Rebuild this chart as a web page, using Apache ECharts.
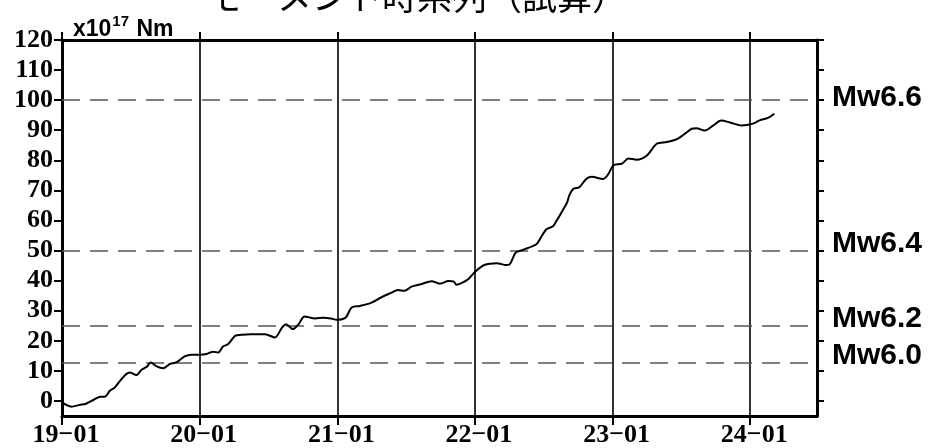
<!DOCTYPE html>
<html>
<head>
<meta charset="utf-8">
<script src="https://cdn.jsdelivr.net/npm/echarts@6/dist/echarts.min.js"></script>
<style>html,body{margin:0;padding:0;background:#fff;}#c{width:934px;height:448px;}</style>
</head>
<body>
<div id="c"></div>
<script>
const dates = [
'2019-01-01','2019-01-26','2019-02-17','2019-03-04','2019-03-26','2019-04-13','2019-04-24','2019-05-08','2019-05-21','2019-06-08',
'2019-06-21','2019-06-30','2019-07-17','2019-07-31','2019-08-15','2019-08-24','2019-09-09','2019-09-26','2019-10-14','2019-10-31',
'2019-11-22','2019-12-10','2020-01-01','2020-01-19','2020-02-06','2020-02-19','2020-03-03','2020-03-17','2020-04-05','2020-04-21',
'2020-05-15','2020-06-23','2020-07-19','2020-08-07','2020-08-18','2020-09-05','2020-09-20','2020-10-06','2020-11-03','2020-11-25',
'2020-12-16','2020-12-30','2021-01-23','2021-02-08','2021-03-02','2021-04-02','2021-04-27','2021-05-25','2021-06-10','2021-06-28',
'2021-07-17','2021-08-11','2021-09-08','2021-09-30','2021-10-23','2021-11-06','2021-11-13','2021-11-30','2021-12-14','2022-01-01',
'2022-01-26','2022-02-28','2022-03-25','2022-04-03','2022-04-19','2022-05-08','2022-06-13','2022-06-21','2022-07-09','2022-07-27',
'2022-08-05','2022-08-18','2022-09-02','2022-09-09','2022-09-19','2022-10-05','2022-10-23','2022-11-07','2022-12-07','2022-12-20',
'2023-01-03','2023-01-26','2023-02-12','2023-03-06','2023-04-02','2023-04-28','2023-05-25','2023-06-21','2023-07-08','2023-07-30',
'2023-08-11','2023-09-02','2023-09-24','2023-10-16','2023-11-08','2023-12-09','2024-01-08','2024-01-26','2024-02-17','2024-03-05'
];
const moment = [
-0.5,-1.9,-1.3,-1.0,0.4,1.4,1.4,3.4,4.5,7.3,
9.0,9.5,8.6,10.4,11.5,12.8,11.5,10.9,12.3,12.8,
14.8,15.4,15.4,15.6,16.4,16.1,18.1,18.9,21.7,22.0,
22.2,22.2,21.1,24.4,25.5,23.9,25.5,28.1,27.4,27.7,
27.4,27.0,27.7,31.1,31.6,32.7,34.4,36.0,36.9,36.6,
38.0,38.8,39.8,39.0,39.9,39.7,38.6,39.4,40.5,42.9,
45.2,45.8,45.2,45.4,49.3,50.2,52.1,53.5,57.0,58.1,
59.8,62.6,65.9,68.6,70.5,71.1,73.8,74.5,73.8,75.3,
78.3,78.9,80.6,80.2,81.6,85.5,86.1,87.1,88.5,90.5,
90.7,89.9,91.5,93.2,92.6,91.6,92.2,93.3,94.1,95.5
];
const yTicks = [0,10,20,30,40,50,60,70,80,90,100,110,120];
const xTickYears = [2019,2020,2021,2022,2023,2024];
const mwLevels = [100, 50.1, 25.1, 12.6];
const mwLabels = ['Mw6.6','Mw6.4','Mw6.2','Mw6.0'];
const titleText = 'モーメント時系列（試算）';
const unitText = 'x10';
const unitSup = '17';
const unitTail = ' Nm';

function decYear(s) {
  const p = s.split('-').map(Number);
  const t = Date.UTC(p[0], p[1]-1, p[2]);
  const a = Date.UTC(p[0], 0, 1), b = Date.UTC(p[0]+1, 0, 1);
  return p[0] + (t - a) / (b - a);
}
const seriesData = dates.map((d, i) => [decYear(d), moment[i]]);

const chart = echarts.init(document.getElementById('c'));
const serif = '"Liberation Serif","Times New Roman",serif';
const sans = '"Liberation Sans",Arial,sans-serif';
const xCommon = {
  type: 'value', min: 2019, max: 2024.485, interval: 0.5,
  axisLine: { show: true, onZero: false, lineStyle: { color: '#000', width: 3 } }
};
const mwLabelStyle = [
  { verticalAlign: 'bottom', lineHeight: 4 },
  { verticalAlign: 'bottom', lineHeight: 14 },
  { verticalAlign: 'bottom', lineHeight: 14 },
  { verticalAlign: 'bottom', lineHeight: 14 }
];
chart.setOption({
  backgroundColor: '#fff',
  animation: false,
  title: [{
    text: titleText, left: 202, top: -26,
    textStyle: { fontFamily: '"Noto Sans CJK JP",sans-serif', fontSize: 35, fontWeight: 'normal', color: '#000' }
  }, {
    text: '{a|' + unitText + '}{s|' + unitSup + '}{a|' + unitTail + '}', left: 68, top: 9,
    textStyle: {
      rich: {
        a: { fontFamily: sans, fontSize: 23, fontWeight: 'bold', color: '#000', verticalAlign: 'bottom' },
        s: { fontFamily: sans, fontSize: 15, fontWeight: 'bold', color: '#000', verticalAlign: 'top', padding: [0, 1, 12, 1] }
      }
    }
  }],
  grid: { left: 62, right: 117, top: 40, bottom: 31, containLabel: false },
  xAxis: [
    Object.assign({}, xCommon, {
      position: 'bottom',
      splitLine: { show: true, lineStyle: { color: '#000', width: 1.6 } },
      axisTick: { show: true, customValues: xTickYears, length: 9, inside: false, lineStyle: { color: '#000', width: 2 } },
      axisLabel: {
        show: true, customValues: xTickYears, margin: 6, color: '#000',
        fontFamily: serif, fontSize: 26, fontWeight: 'bold', padding: [0, 0, 0, 8],
        formatter: v => String(Math.round(v)).slice(2) + '\u221201'
      }
    }),
    Object.assign({}, xCommon, {
      position: 'top',
      splitLine: { show: false },
      axisTick: { show: true, customValues: xTickYears, length: 8, inside: false, lineStyle: { color: '#000', width: 2 } },
      axisLabel: { show: false }
    })
  ],
  yAxis: [
    {
      type: 'value', position: 'left', min: -5, max: 120, interval: 5,
      axisLine: { show: true, onZero: false, lineStyle: { color: '#000', width: 3 } },
      axisTick: { show: true, customValues: yTicks, length: 8, lineStyle: { color: '#000', width: 2 } },
      axisLabel: { show: true, customValues: yTicks, margin: 9, color: '#000', fontFamily: serif, fontSize: 26, fontWeight: 'bold' },
      splitLine: { show: false }
    },
    {
      type: 'value', position: 'right', min: -5, max: 120, interval: 5,
      axisLine: { show: true, onZero: false, lineStyle: { color: '#000', width: 3 } },
      axisTick: { show: true, customValues: yTicks, length: 7, lineStyle: { color: '#000', width: 2 } },
      axisLabel: { show: false },
      splitLine: { show: false }
    }
  ],
  series: [{
    type: 'line', xAxisIndex: 0, yAxisIndex: 0,
    data: seriesData, showSymbol: false, smooth: 0.3,
    lineStyle: { color: '#000', width: 2 },
    z: 5,
    markLine: {
      silent: true, symbol: 'none', z: 3,
      lineStyle: { color: '#555', width: 1.5, type: [18, 10] },
      label: {
        show: true, position: 'end', distance: 15, formatter: '{b}',
        fontFamily: sans, fontSize: 30, fontWeight: 'bold', color: '#000'
      },
      data: mwLevels.map((v, i) => ({ yAxis: v, name: mwLabels[i], label: mwLabelStyle[i] }))
    }
  }]
});
</script>
</body>
</html>
